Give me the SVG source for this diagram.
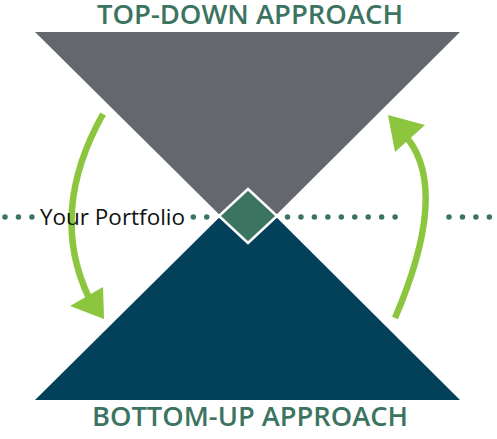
<svg xmlns="http://www.w3.org/2000/svg" width="497" height="439" viewBox="0 0 497 439">
  <style>
    .title { font-family: "Open Sans", "Noto Sans", sans-serif; font-size: 27px; fill: #3d7361; font-weight: 600; }
    .label { font-family: "Open Sans", "Noto Sans", sans-serif; font-size: 22px; fill: #111111; }
    .dots { stroke: #3d7361; stroke-width: 5.5; stroke-linecap: round; stroke-dasharray: 0 13.45; fill: none; }
    .arrow { stroke: #8cc63f; stroke-width: 6.5; fill: none; }
    .head { fill: #8cc63f; }
  </style>
  <rect width="497" height="439" fill="#ffffff"/>
  <g id="top-down">
    <polygon points="35,32 460,32 248,243" fill="#64686e"/>
    <text class="title" x="250" y="24" text-anchor="middle" textLength="306" lengthAdjust="spacingAndGlyphs">TOP-DOWN APPROACH</text>
  </g>
  <g id="bottom-up">
    <polygon points="35,400 460,400 248,189" fill="#03415a"/>
    <text class="title" x="250" y="426" text-anchor="middle" textLength="316" lengthAdjust="spacingAndGlyphs">BOTTOM-UP APPROACH</text>
  </g>
  <g id="connectors">
    <path class="dots" d="M5,217 H33"/>
    <path class="dots" d="M193.3,217 H208"/>
    <path class="dots" d="M287.5,217 H396"/>
    <path class="dots" d="M449,217 H492"/>
    <path class="arrow" d="M103,114 Q48,212 89,298"/>
    <polygon class="head" points="104,319 70,306 103,287"/>
    <path class="arrow" d="M395,318 Q449,192 408,139"/>
    <polygon class="head" points="388,115 425,125 395,152"/>
  </g>
  <g id="portfolio">
    <polygon points="248,189 277,216 248,243 219,216" fill="#3b7562" stroke="#ffffff" stroke-width="2.5"/>
    <text class="label" x="40" y="225" textLength="145" lengthAdjust="spacingAndGlyphs">Your Portfolio</text>
  </g>
</svg>
